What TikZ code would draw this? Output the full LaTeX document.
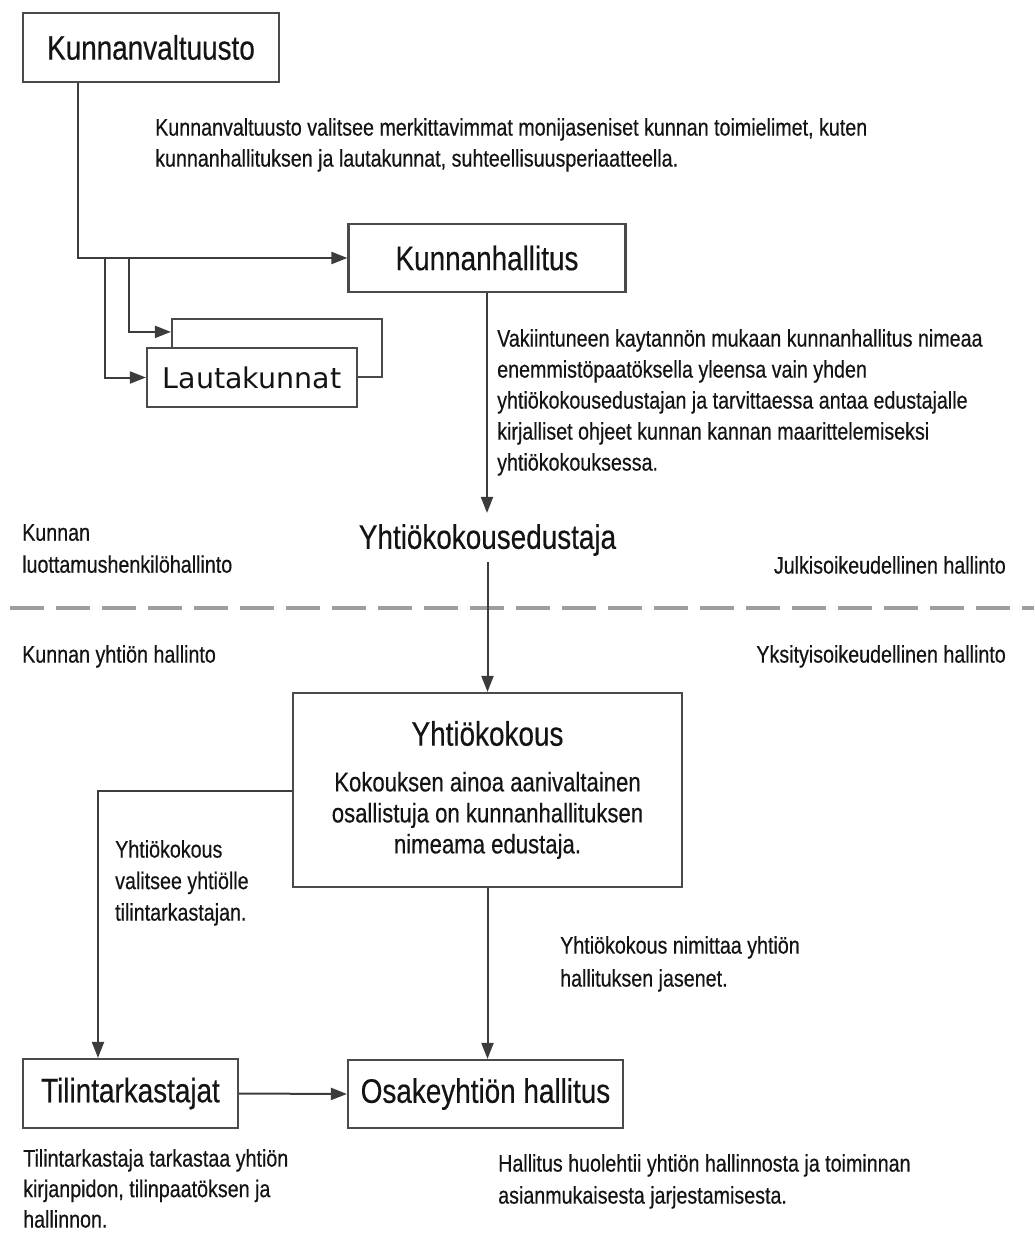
\documentclass[tikz,border=0pt]{standalone}
\usepackage{fontspec}
\setmainfont{Liberation Sans}[FakeStretch=0.82,FakeBold=0.4]
\newfontfamily\lautafont{DejaVu Sans}
\usetikzlibrary{arrows.meta,calc}
\definecolor{linec}{HTML}{3C3C3C}
\definecolor{boxc}{HTML}{4A4A4A}
\definecolor{txtc}{HTML}{141414}
\definecolor{dashc}{HTML}{9E9E9E}
\tikzset{
  box/.style={draw=boxc, line width=2.2pt, fill=white, inner sep=0pt, text=txtc,
    font=\fontsize{34}{40}\selectfont},
  conn/.style={draw=linec, line width=2pt},
  arrowconn/.style={conn, -{Triangle[length=16pt,width=12pt]}},
  para/.style={inner sep=0pt, align=left, text=txtc, font=\fontsize{24}{31}\selectfont},
  divider/.style={draw=dashc, line width=4pt, dash pattern=on 34pt off 12pt},
  bigtext/.style={inner sep=0pt, text=txtc, font=\fontsize{34}{40}\selectfont}
}
\begin{document}
\begin{tikzpicture}[x=1pt,y=-1pt]
\useasboundingbox[fill=white] (0,0) rectangle (1034,1233);

% boxes
\node[box, minimum width=256, minimum height=69] (kv) at (151,47.5) {Kunnanvaltuusto};
\node[box, minimum width=277, minimum height=68] (kh) at (487,258) {Kunnanhallitus};
\node[box, minimum width=210, minimum height=58] (lkb) at (277,348) {};
\node[box, minimum width=210, minimum height=59, font=\lautafont\fontsize{28.5}{34}\selectfont] (lk) at (252,377.5) {Lautakunnat};
\node[bigtext, inner ysep=14pt] (ed) at (487.5,540) {Yhtiökokousedustaja};
\node[box, minimum width=389, minimum height=194, align=center, font=\fontsize{27}{31}\selectfont] (yk) at (487.5,790)
  {{\fontsize{34}{40}\selectfont Yhtiökokous}\\[14.7pt]Kokouksen ainoa aanivaltainen\\osallistuja on kunnanhallituksen\\nimeama edustaja.};
\node[box, minimum width=215, minimum height=69] (tt) at (130.5,1093.5) {Tilintarkastajat};
\node[box, minimum width=275, minimum height=68] (oh) at (485.5,1094) {Osakeyhtiön hallitus};

% divider
\coordinate (dl) at (10,608);
\coordinate (dr) at (1034,608);
\draw[divider] (dl) -- (dr);

% connectors
\coordinate (j1) at (78,258);
\coordinate (j2) at (105,258);
\coordinate (j3) at (129,258);
\draw[arrowconn] (kv.south -| j1) -- (j1) -- (kh.west);
\draw[conn] (j1) -- (j3);
\draw[arrowconn] (j2) |- (lk.west);
\draw[arrowconn] (j3) |- ($(lkb.north west)+(0,14)$);
\draw[arrowconn] (kh.south) -- ([yshift=-3pt]kh.south |- ed.north);
\draw[arrowconn] ([yshift=8pt]ed.south) -- (yk.north);
\coordinate (c1) at (98,791);
\draw[arrowconn] (yk.west |- c1) -- (c1) -- (tt.north -| c1);
\draw[arrowconn] (yk.south) -- (yk.south |- oh.north);
\draw[arrowconn] (tt.east) -- (oh.west);

% texts
\node[para, anchor=north west] (t1) at (155,118)
  {Kunnanvaltuusto valitsee merkittavimmat monijaseniset kunnan toimielimet, kuten\\kunnanhallituksen ja lautakunnat, suhteellisuusperiaatteella.};
\node[para, anchor=north west] (t2) at (497,329)
  {Vakiintuneen kaytannön mukaan kunnanhallitus nimeaa\\enemmistöpaatöksella yleensa vain yhden\\yhtiökokousedustajan ja tarvittaessa antaa edustajalle\\kirjalliset ohjeet kunnan kannan maarittelemiseksi\\yhtiökokouksessa.};
\node[para, anchor=north west, font=\fontsize{24}{32}\selectfont] (t3) at (22,524)
  {Kunnan\\luottamushenkilöhallinto};
\node[para, anchor=north east] (t4) at (1006,556) {Julkisoikeudellinen hallinto};
\node[para, anchor=north west] (t5) at (22,645) {Kunnan yhtiön hallinto};
\node[para, anchor=north east] (t6) at (1006,645) {Yksityisoikeudellinen hallinto};
\node[para, anchor=north west, font=\fontsize{24}{31.5}\selectfont] (t7) at (115,840)
  {Yhtiökokous\\valitsee yhtiölle\\tilintarkastajan.};
\node[para, anchor=north west, font=\fontsize{24}{33}\selectfont] (t8) at (560,936)
  {Yhtiökokous nimittaa yhtiön\\hallituksen jasenet.};
\node[para, anchor=north west, font=\fontsize{24}{30.5}\selectfont] (t9) at (23,1149)
  {Tilintarkastaja tarkastaa yhtiön\\kirjanpidon, tilinpaatöksen ja\\hallinnon.};
\node[para, anchor=north west, font=\fontsize{24}{32}\selectfont] (t10) at (498,1154)
  {Hallitus huolehtii yhtiön hallinnosta ja toiminnan\\asianmukaisesta jarjestamisesta.};
\end{tikzpicture}
\end{document}
